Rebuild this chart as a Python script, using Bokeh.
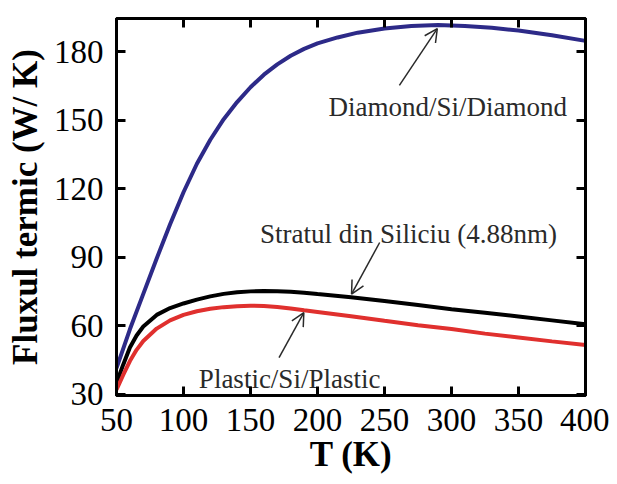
from bokeh.plotting import figure
from bokeh.models import Range1d, LinearAxis, Arrow, OpenHead, FixedTicker, ColumnDataSource
from bokeh.core.properties import value
from bokeh.embed import file_html
from bokeh.resources import INLINE

# ---- data ----
t_diamond = [50, 60, 70, 80, 90, 100, 110, 120, 130, 140, 150, 160, 170, 180, 190, 200,
             215, 230, 250, 270, 290, 310, 330, 350, 375, 400]
q_diamond = [41.5, 58.5, 74.0, 89.5, 104.5, 118.5, 131.0, 141.5, 150.5, 158.0, 164.5, 170.0,
             174.5, 178.3, 181.3, 183.7, 186.3, 188.4, 190.2, 191.3, 191.7, 191.3, 190.5,
             189.3, 187.3, 184.8]

t_silicon = [50, 55, 60, 65, 70, 80, 90, 100, 110, 120, 130, 140, 150, 160, 170, 180, 190,
             200, 225, 250, 275, 300, 325, 350, 375, 400]
q_silicon = [35.0, 43.0, 50.5, 55.8, 59.7, 64.8, 67.8, 69.8, 71.5, 72.9, 74.0, 74.7, 75.1,
             75.3, 75.2, 74.9, 74.5, 73.9, 72.5, 70.9, 69.1, 67.3, 65.7, 64.1, 62.4, 60.7]

t_plastic = [50, 55, 60, 65, 70, 80, 90, 100, 110, 120, 130, 140, 150, 160, 170, 180, 190,
             200, 225, 250, 275, 300, 325, 350, 375, 400]
q_plastic = [32.0, 38.5, 44.6, 49.5, 53.4, 58.8, 62.4, 64.8, 66.4, 67.5, 68.2, 68.6, 68.8,
             68.7, 68.3, 67.6, 66.8, 66.1, 64.2, 62.2, 60.3, 58.6, 56.6, 54.9, 53.2, 51.6]

x_ticks = [50, 100, 150, 200, 250, 300, 350, 400]
y_ticks = [30, 60, 90, 120, 150, 180]

labels = ["Diamond/Si/Diamond", "Stratul din Siliciu (4.88nm)", "Plastic/Si/Plastic"]
label_x = [297.2, 267.9, 179.2]
label_y = [155.8, 100.2, 36.6]

# arrows: (x_start, y_start, x_end, y_end)
arrows = [(261.1, 165.3, 289.4, 190.2),
          (246.4, 96.5, 225.4, 73.9),
          (171.3, 46.1, 189.8, 65.8)]

FONT = "Liberation Serif"

p = figure(width=609, height=476, output_backend="svg", toolbar_location=None,
           x_range=Range1d(50, 400), y_range=Range1d(29.5, 194.6),
           min_border_left=116, min_border_right=24, min_border_top=18, min_border_bottom=80)
p.background_fill_color = "white"
p.border_fill_color = "white"
p.grid.visible = False
p.outline_line_color = "black"
p.outline_line_width = 3

p.xaxis.axis_label = "T (K)"
p.yaxis.axis_label = "Fluxul termic (W/ K)"

for ax in (p.xaxis[0], p.yaxis[0]):
    ax.axis_label_text_font = FONT
    ax.axis_label_text_font_style = "bold"
    ax.axis_label_text_font_size = "35px"
    ax.axis_label_text_color = "black"
    ax.major_label_text_font = FONT
    ax.major_label_text_font_size = "33px"
    ax.major_label_text_color = "black"
    ax.axis_line_width = 3
    ax.major_tick_line_width = 3
    ax.major_tick_in = 9
    ax.major_tick_out = 0
    ax.minor_tick_line_color = None

p.xaxis[0].ticker = FixedTicker(ticks=x_ticks)
p.yaxis[0].ticker = FixedTicker(ticks=y_ticks)
p.xaxis[0].major_label_standoff = 13
p.xaxis[0].axis_label_standoff = 1
p.yaxis[0].major_label_standoff = 13
p.yaxis[0].axis_label_standoff = 6


def mirror_axis(ticks):
    return LinearAxis(ticker=FixedTicker(ticks=ticks), major_label_text_font_size="1px",
                      major_label_text_color=None, major_label_standoff=0,
                      axis_line_width=3, major_tick_line_width=3, major_tick_in=9,
                      major_tick_out=0, minor_tick_line_color=None)


p.add_layout(mirror_axis(x_ticks), "above")
p.add_layout(mirror_axis(y_ticks), "right")

p.line(t_diamond, q_diamond, line_color="#2d2a88", line_width=4)
p.line(t_silicon, q_silicon, line_color="black", line_width=4)
p.line(t_plastic, q_plastic, line_color="#e0302e", line_width=4)

src = ColumnDataSource(dict(x=label_x, y=label_y, text=labels))
p.text(x="x", y="y", text="text", source=src, text_font=value(FONT),
       text_font_size="27px", text_color="#2a2a2a", text_align="center",
       text_baseline="alphabetic")

for (xs, ys, xe, ye) in arrows:
    p.add_layout(Arrow(end=OpenHead(size=13, line_width=1.5, line_color="#2a2a2a"),
                       x_start=xs, y_start=ys, x_end=xe, y_end=ye,
                       line_width=1.5, line_color="#2a2a2a"))

open("out.html", "w").write(file_html(p, INLINE))
